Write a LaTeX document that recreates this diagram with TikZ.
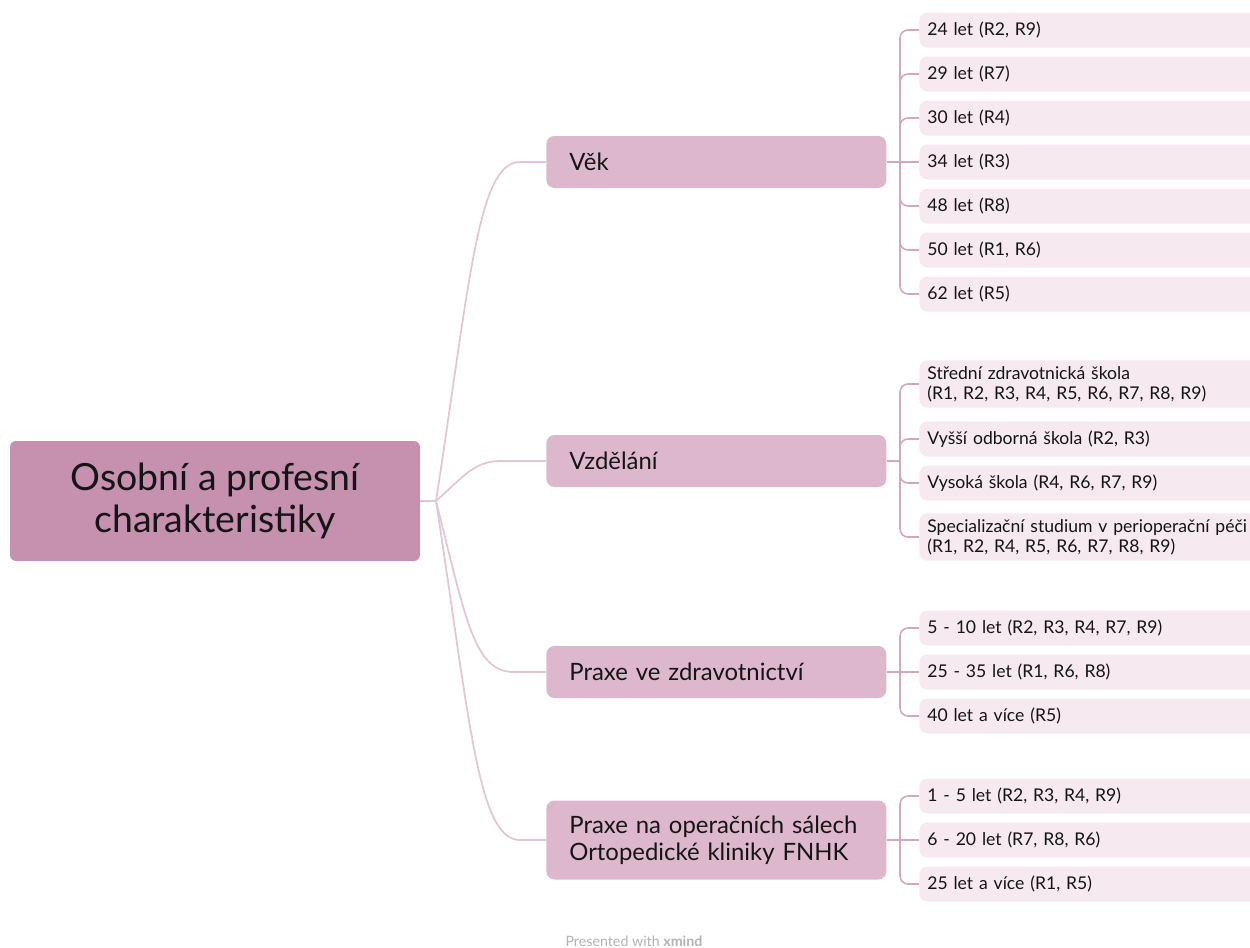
\documentclass[tikz,border=0pt]{standalone}
\usepackage{fontspec}
\setmainfont{Lato}

\definecolor{rootpink}{HTML}{C690AF}
\definecolor{branchpink}{HTML}{DDB8CC}
\definecolor{leafpink}{HTML}{F6E9F0}
\definecolor{linkpink}{HTML}{E3C6D6}
\definecolor{spinepink}{HTML}{D3A7BF}
\definecolor{textdark}{HTML}{151515}

\tikzset{
    rootbox/.style={fill=rootpink, rounded corners=0.12cm, minimum width=8.2cm, minimum height=2.4cm,
        align=center, text=textdark, font=\fontsize{21.3}{23.5}\selectfont},
    branchbox/.style={fill=branchpink, rounded corners=0.16cm, minimum height=1.04cm, inner xsep=0.46cm,
        text width=5.88cm, align=left, anchor=west, text=textdark, font=\fontsize{13.6}{15.5}\selectfont},
    leafbox/.style={fill=leafpink, rounded corners=0.16cm, minimum height=0.7cm, inner xsep=0.16cm,
        text width=6.5cm, align=left, anchor=west, text=textdark, font=\fontsize{10}{11.5}\selectfont},
    link/.style={draw=linkpink, line width=1pt},
    sublink/.style={draw=spinepink, line width=0.9pt, rounded corners=0.16cm}
}

\begin{document}
\begin{tikzpicture}[x=0.02cm, y=-0.02cm]
        \useasboundingbox (0,0) rectangle (1250,947);
        \clip (0,0) rectangle (1250,947);

        % Koren
        \node[rootbox] (root) at (215,501) {Osobní a profesní\\charakteristiky};

        % Vetve
        \node[branchbox] (vek) at (546,162) {Věk};
        \node[branchbox] (vzdelani) at (546,461) {Vzdělání};
        \node[branchbox] (praxe) at (546,672) {Praxe ve zdravotnictví};
        \node[branchbox, minimum height=1.58cm] (salech) at (546,840) {Praxe na operačních sálech\\Ortopedické kliniky FNHK};

        % Spojnice koren - vetve
        \coordinate (hub) at (436,501);
        \draw[link] (root.east) -- (hub);
        \draw[link] (hub) .. controls (470,280) and (478,162) .. (520,162) -- (vek.west);
        \draw[link] (hub) .. controls (462,478) and (474,461) .. (500,461) -- (vzdelani.west);
        \draw[link] (hub) .. controls (466,620) and (474,672) .. (514,672) -- (praxe.west);
        \draw[link] (hub) .. controls (470,722) and (478,840) .. (520,840) -- (salech.west);

        % Vek
        \node[leafbox] (v1) at (919,30) {24 let (R2, R9)};
        \node[leafbox] (v2) at (919,74) {29 let (R7)};
        \node[leafbox] (v3) at (919,118) {30 let (R4)};
        \node[leafbox] (v4) at (919,162) {34 let (R3)};
        \node[leafbox] (v5) at (919,206) {48 let (R8)};
        \node[leafbox] (v6) at (919,250) {50 let (R1, R6)};
        \node[leafbox] (v7) at (919,294) {62 let (R5)};

        % Vzdelani
        \node[leafbox] (e1) at (919,384) {Střední zdravotnická škola\\(R1, R2, R3, R4, R5, R6, R7, R8, R9)};
        \node[leafbox] (e2) at (919,439) {Vyšší odborná škola (R2, R3)};
        \node[leafbox] (e3) at (919,483) {Vysoká škola (R4, R6, R7, R9)};
        \node[leafbox] (e4) at (919,537) {Specializační studium v perioperační péči\\(R1, R2, R4, R5, R6, R7, R8, R9)};

        % Praxe ve zdravotnictvi
        \node[leafbox] (p1) at (919,628) {5 - 10 let (R2, R3, R4, R7, R9)};
        \node[leafbox] (p2) at (919,672) {25 - 35 let (R1, R6, R8)};
        \node[leafbox] (p3) at (919,716) {40 let a více (R5)};

        % Praxe na salech
        \node[leafbox] (s1) at (919,796) {1 - 5 let (R2, R3, R4, R9)};
        \node[leafbox] (s2) at (919,840) {6 - 20 let (R7, R8, R6)};
        \node[leafbox] (s3) at (919,884) {25 let a více (R1, R5)};

        % Spojnice vetve - listy
        \coordinate (vekspine) at (900,162);
        \draw[sublink] (vek.east) -- (vekspine);
        \draw[sublink] (vekspine) |- (v1.west);
        \draw[sublink] (vekspine) |- (v2.west);
        \draw[sublink] (vekspine) |- (v3.west);
        \draw[sublink] (vekspine) -- (v4.west);
        \draw[sublink] (vekspine) |- (v5.west);
        \draw[sublink] (vekspine) |- (v6.west);
        \draw[sublink] (vekspine) |- (v7.west);

        \coordinate (vzdspine) at (900,461);
        \draw[sublink] (vzdelani.east) -- (vzdspine);
        \draw[sublink] (vzdspine) |- (e1.west);
        \draw[sublink] (vzdspine) |- (e2.west);
        \draw[sublink] (vzdspine) |- (e3.west);
        \draw[sublink] (vzdspine) |- (e4.west);

        \coordinate (praxespine) at (900,672);
        \draw[sublink] (praxe.east) -- (praxespine);
        \draw[sublink] (praxespine) |- (p1.west);
        \draw[sublink] (praxespine) -- (p2.west);
        \draw[sublink] (praxespine) |- (p3.west);

        \coordinate (salspine) at (900,840);
        \draw[sublink] (salech.east) -- (salspine);
        \draw[sublink] (salspine) |- (s1.west);
        \draw[sublink] (salspine) -- (s2.west);
        \draw[sublink] (salspine) |- (s3.west);

        % Paticka
        \node[text=black!30, font=\fontsize{8.1}{9}\selectfont] (footer) at (634,941) {Presented with \textbf{xmind}};
\end{tikzpicture}
\end{document}
